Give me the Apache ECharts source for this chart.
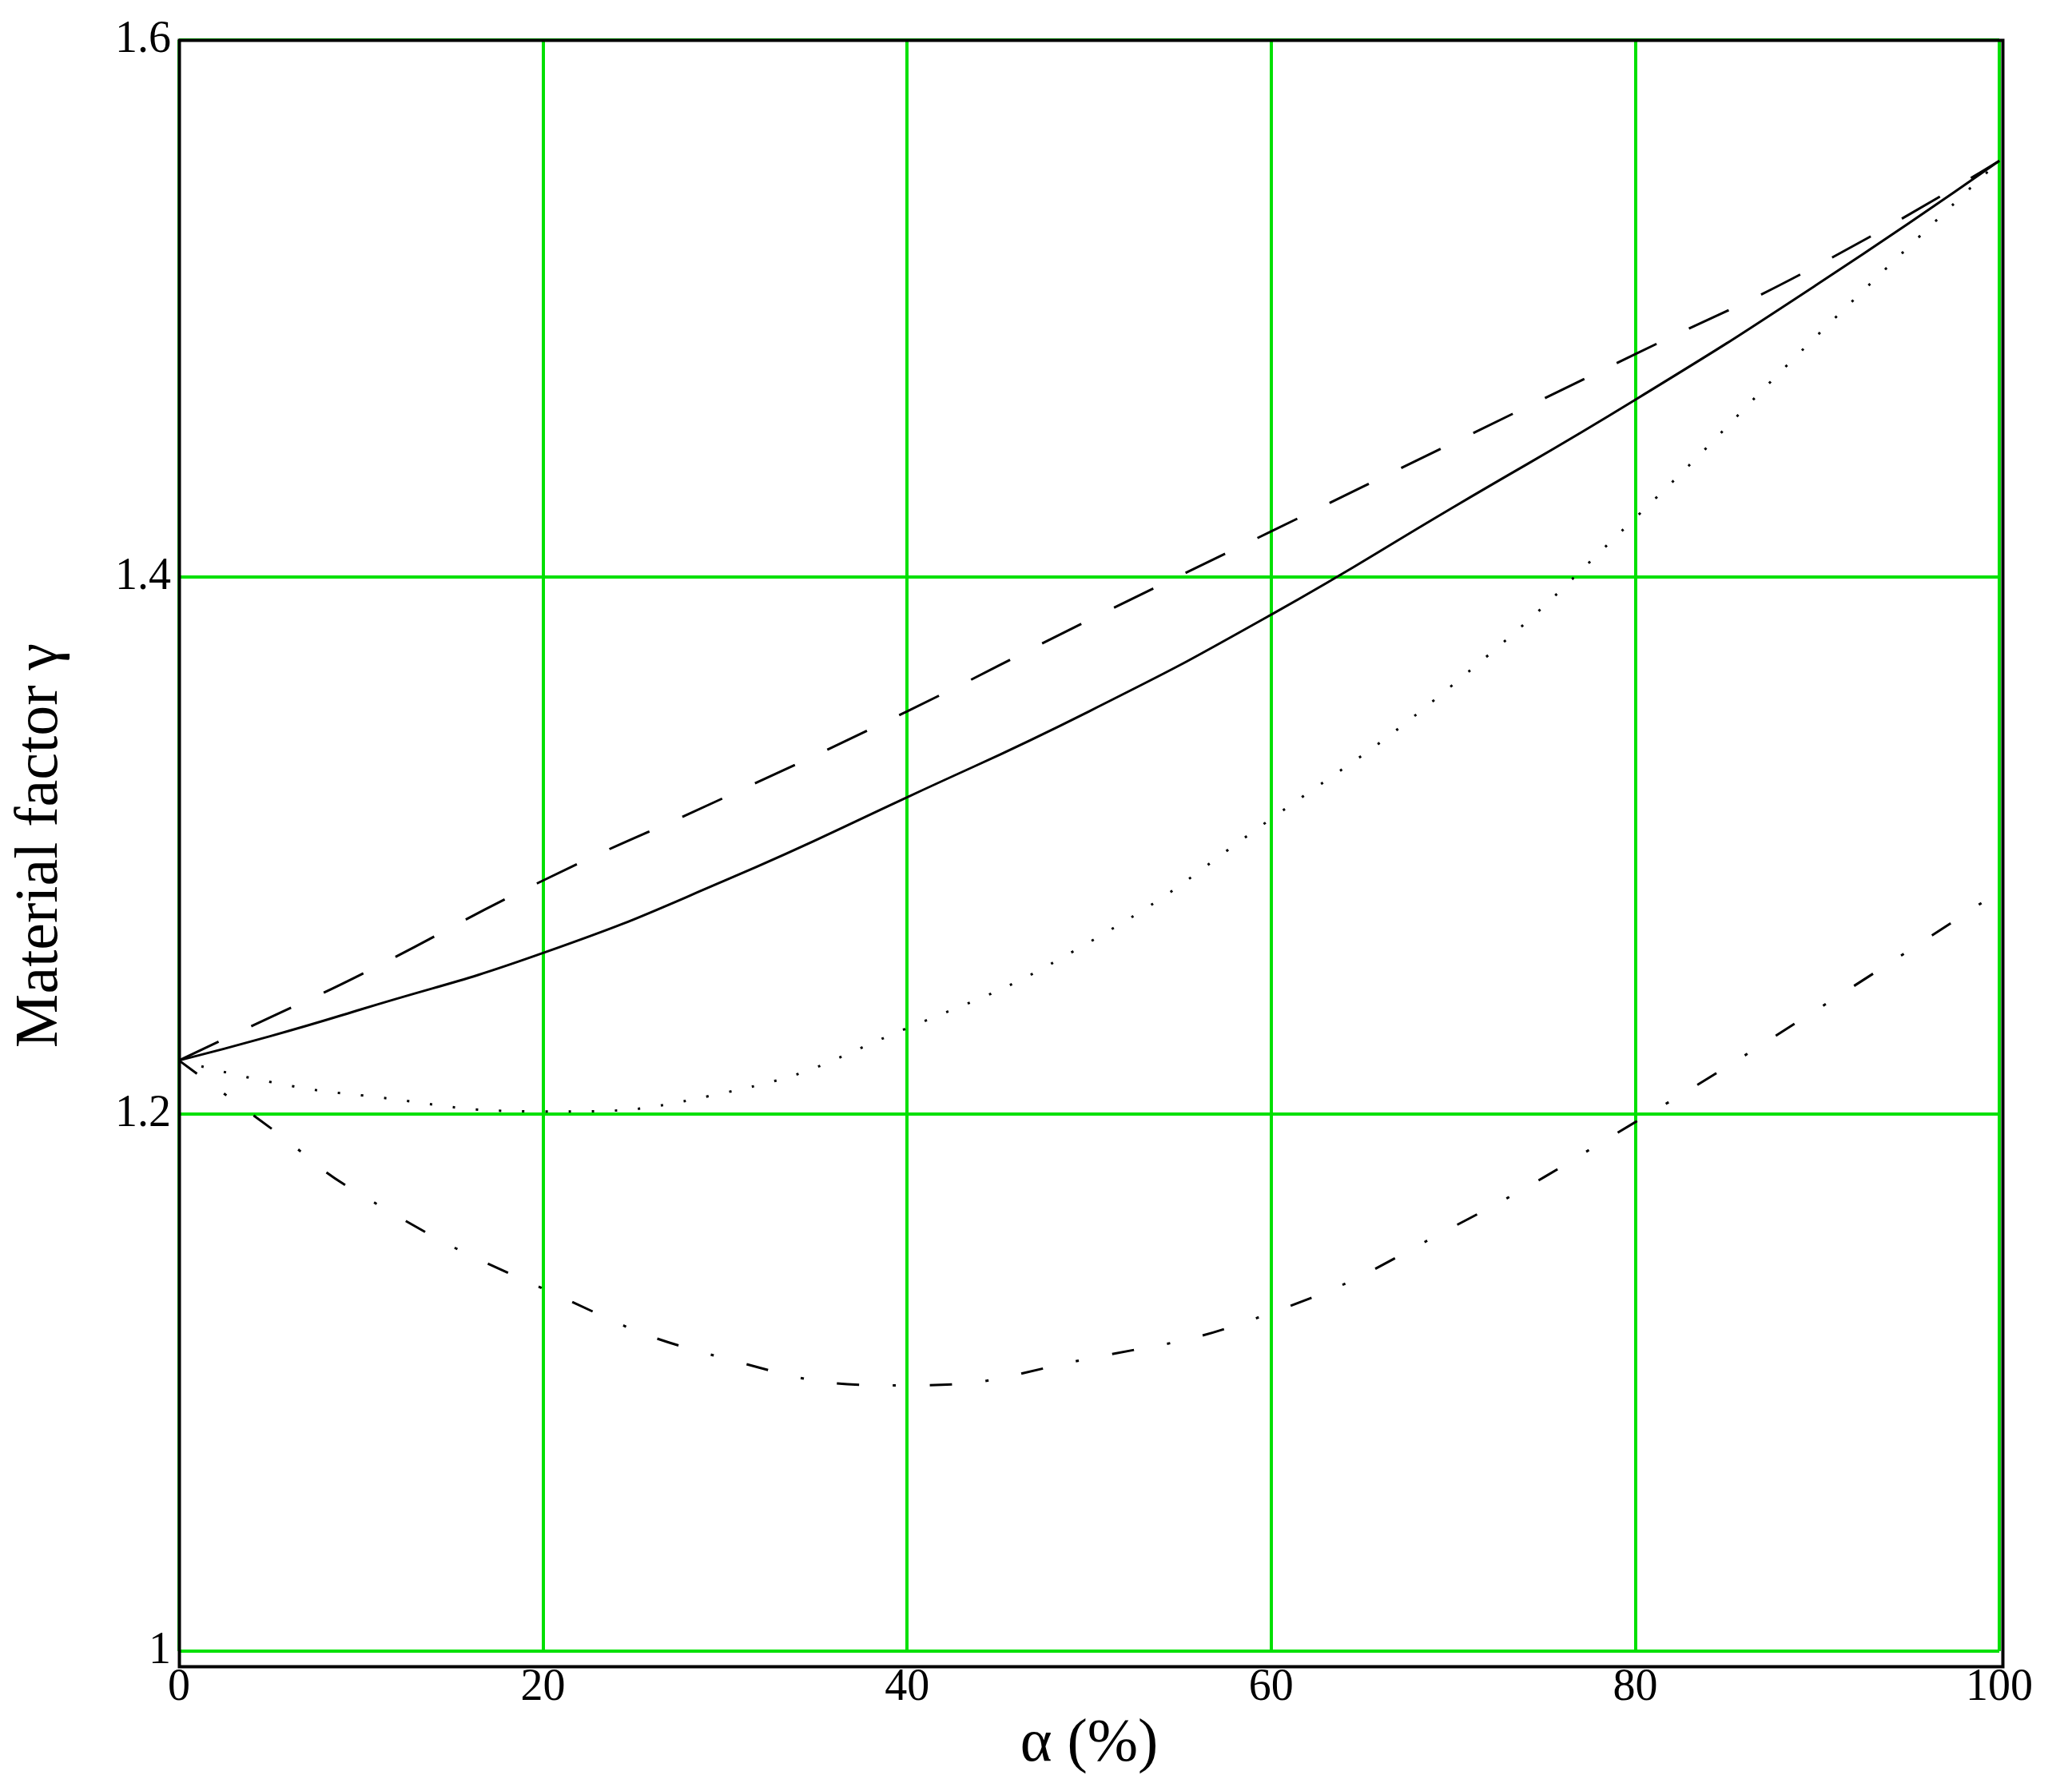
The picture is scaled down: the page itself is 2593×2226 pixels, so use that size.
<!DOCTYPE html>
<html>
<head>
<meta charset="utf-8">
<script src="https://cdn.jsdelivr.net/npm/echarts@6/dist/echarts.min.js"></script>
<style>html,body{margin:0;padding:0;background:#fff}#chart{width:2593px;height:2226px}</style>
</head>
<body>
<div id="chart"></div>
<script>
// alpha (%) sample points
const alpha = [0, 5, 10, 20, 30, 40, 50, 60, 70, 80, 90, 100];
const solid = [1.22, 1.229, 1.239, 1.26, 1.287, 1.318, 1.35, 1.386, 1.426, 1.466, 1.509, 1.555];
const dashed = [1.22, 1.236, 1.252, 1.287, 1.318, 1.35, 1.384, 1.417, 1.45, 1.483, 1.516, 1.555];
const dotted = [1.22, 1.212, 1.207, 1.201, 1.208, 1.232, 1.264, 1.31, 1.36, 1.422, 1.49, 1.555];
const dashDot = [1.22, 1.195, 1.17, 1.135, 1.109, 1.099, 1.109, 1.126, 1.158, 1.197, 1.239, 1.283];

const font = 'Liberation Serif';
const pairs = (ys) => alpha.map((x, i) => [x, ys[i]]);

const chart = echarts.init(document.getElementById('chart'));

function line(name, ys, type) {
  return {
    name: name,
    type: 'line',
    smooth: true,
    symbol: 'none',
    data: pairs(ys),
    lineStyle: { color: '#000', width: 3, type: type }
  };
}

chart.setOption({
  animation: false,
  grid: { left: 224, right: 91, top: 50, bottom: 145 },
  xAxis: {
    type: 'value', min: 0, max: 100, interval: 20,
    name: 'α (%)', nameLocation: 'middle', nameGap: 68,
    nameTextStyle: { fontFamily: font, fontSize: 76, color: '#000' },
    axisLine: { show: false },
    axisTick: { show: false },
    axisLabel: { fontFamily: font, fontSize: 56, color: '#000', margin: 18 },
    splitLine: { lineStyle: { color: '#00e000', width: 4 } }
  },
  yAxis: {
    type: 'value', min: 1, max: 1.6, interval: 0.2,
    name: 'Material factor γ', nameLocation: 'middle', nameGap: 135,
    nameTextStyle: { fontFamily: font, fontSize: 76, color: '#000' },
    axisLine: { show: false },
    axisTick: { show: false },
    axisLabel: { fontFamily: font, fontSize: 56, color: '#000', margin: 10,
      formatter: v => (Math.round(v * 10) / 10).toString() },
    splitLine: { lineStyle: { color: '#00e000', width: 4 } }
  },
  graphic: [{
    type: 'rect', left: 222, top: 48, z: 100,
    shape: { width: 2593 - 224 - 91 + 4, height: 2226 - 50 - 145 + 4 },
    style: { fill: 'none', stroke: '#000', lineWidth: 4 }
  }],
  series: [
    line('solid', solid, 'solid'),
    line('dashed', dashed, [55, 45]),
    line('dotted', dotted, [3, 26]),
    line('dashDot', dashDot, [28, 42, 4, 42])
  ]
});
</script>
</body>
</html>
